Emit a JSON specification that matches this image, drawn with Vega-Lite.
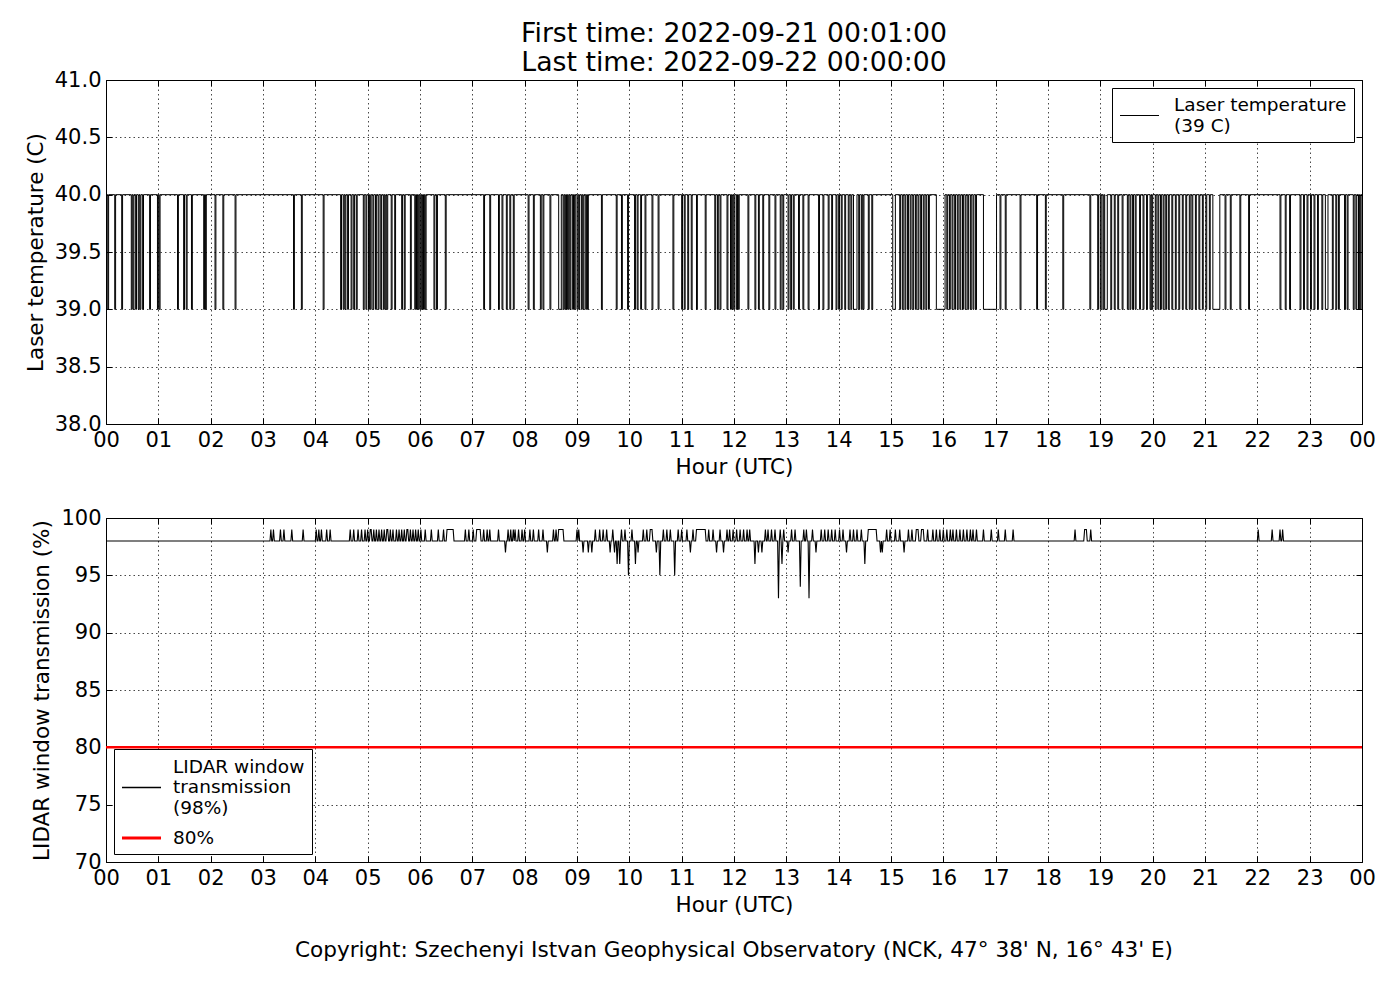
{
  "$schema": "https://vega.github.io/schema/vega-lite/v6.json",
  "padding": {"left": 24, "top": 20, "right": 24, "bottom": 10},
  "datasets": {
    "laser": [
      {"minute":1,"value":40},
      {"minute":2,"value":39},{"minute":3,"value":40},{"minute":10,"value":39},{"minute":11,"value":40},
      {"minute":18,"value":39},{"minute":19,"value":40},{"minute":29,"value":39},{"minute":30,"value":40},
      {"minute":31,"value":39},{"minute":32,"value":40},{"minute":34,"value":39},{"minute":35,"value":40},
      {"minute":37,"value":39},{"minute":38,"value":40},{"minute":39,"value":39},{"minute":40,"value":40},
      {"minute":42,"value":39},{"minute":43,"value":40},{"minute":50,"value":39},{"minute":51,"value":40},
      {"minute":59,"value":39},{"minute":60,"value":40},{"minute":61,"value":39},{"minute":62,"value":40},
      {"minute":82,"value":39},{"minute":83,"value":40},{"minute":89,"value":39},{"minute":90,"value":40},
      {"minute":92,"value":39},{"minute":93,"value":40},{"minute":98,"value":39},{"minute":99,"value":40},
      {"minute":112,"value":39},{"minute":113,"value":40},{"minute":114,"value":39},{"minute":115,"value":40},
      {"minute":125,"value":39},{"minute":126,"value":40},{"minute":134,"value":39},{"minute":135,"value":40},
      {"minute":148,"value":39},{"minute":149,"value":40},{"minute":215,"value":39},{"minute":216,"value":40},
      {"minute":224,"value":39},{"minute":225,"value":40},{"minute":249,"value":39},{"minute":250,"value":40},
      {"minute":269,"value":39},{"minute":270,"value":40},{"minute":272,"value":39},{"minute":273,"value":40},
      {"minute":274,"value":39},{"minute":275,"value":40},{"minute":277,"value":39},{"minute":278,"value":40},
      {"minute":281,"value":39},{"minute":282,"value":40},{"minute":284,"value":39},{"minute":285,"value":40},
      {"minute":287,"value":39},{"minute":288,"value":40},{"minute":295,"value":39},{"minute":296,"value":40},
      {"minute":298,"value":39},{"minute":299,"value":40},{"minute":301,"value":39},{"minute":302,"value":40},
      {"minute":303,"value":39},{"minute":304,"value":40},{"minute":306,"value":39},{"minute":307,"value":40},
      {"minute":309,"value":39},{"minute":310,"value":40},{"minute":312,"value":39},{"minute":313,"value":40},
      {"minute":315,"value":39},{"minute":316,"value":40},{"minute":318,"value":39},{"minute":319,"value":40},
      {"minute":320,"value":39},{"minute":321,"value":40},{"minute":322,"value":39},{"minute":323,"value":40},
      {"minute":327,"value":39},{"minute":328,"value":40},{"minute":331,"value":39},{"minute":332,"value":40},
      {"minute":339,"value":39},{"minute":340,"value":40},{"minute":342,"value":39},{"minute":343,"value":40},
      {"minute":349,"value":39},{"minute":350,"value":40},{"minute":354,"value":39},{"minute":355,"value":40},
      {"minute":356,"value":39},{"minute":357,"value":40},{"minute":358,"value":39},{"minute":359,"value":40},
      {"minute":360,"value":39},{"minute":361,"value":40},{"minute":362,"value":39},{"minute":363,"value":40},
      {"minute":364,"value":39},{"minute":365,"value":40},{"minute":366,"value":39},{"minute":367,"value":40},
      {"minute":376,"value":39},{"minute":377,"value":40},{"minute":379,"value":39},{"minute":380,"value":40},
      {"minute":389,"value":39},{"minute":390,"value":40},{"minute":433,"value":39},{"minute":434,"value":40},
      {"minute":440,"value":39},{"minute":441,"value":40},{"minute":450,"value":39},{"minute":451,"value":40},
      {"minute":454,"value":39},{"minute":455,"value":40},{"minute":459,"value":39},{"minute":460,"value":40},
      {"minute":463,"value":39},{"minute":464,"value":40},{"minute":467,"value":39},{"minute":468,"value":40},
      {"minute":484,"value":39},{"minute":485,"value":40},{"minute":490,"value":39},{"minute":491,"value":40},
      {"minute":498,"value":39},{"minute":499,"value":40},{"minute":501,"value":39},{"minute":502,"value":40},
      {"minute":509,"value":39},{"minute":510,"value":40},{"minute":519,"value":39},{"minute":522,"value":40},
      {"minute":524,"value":39},{"minute":525,"value":40},{"minute":526,"value":39},{"minute":527,"value":40},
      {"minute":528,"value":39},{"minute":529,"value":40},{"minute":530,"value":39},{"minute":531,"value":40},
      {"minute":532,"value":39},{"minute":533,"value":40},{"minute":535,"value":39},{"minute":536,"value":40},
      {"minute":537,"value":39},{"minute":538,"value":40},{"minute":540,"value":39},{"minute":541,"value":40},
      {"minute":542,"value":39},{"minute":543,"value":40},{"minute":545,"value":39},{"minute":546,"value":40},
      {"minute":547,"value":39},{"minute":548,"value":40},{"minute":550,"value":39},{"minute":551,"value":40},
      {"minute":552,"value":39},{"minute":553,"value":40},{"minute":568,"value":39},{"minute":569,"value":40},
      {"minute":585,"value":39},{"minute":586,"value":40},{"minute":591,"value":39},{"minute":592,"value":40},
      {"minute":598,"value":39},{"minute":599,"value":40},{"minute":606,"value":39},{"minute":607,"value":40},
      {"minute":609,"value":39},{"minute":610,"value":40},{"minute":613,"value":39},{"minute":614,"value":40},
      {"minute":618,"value":39},{"minute":619,"value":40},{"minute":626,"value":39},{"minute":627,"value":40},
      {"minute":633,"value":39},{"minute":634,"value":40},{"minute":650,"value":39},{"minute":651,"value":40},
      {"minute":660,"value":39},{"minute":661,"value":40},{"minute":663,"value":39},{"minute":664,"value":40},
      {"minute":667,"value":39},{"minute":668,"value":40},{"minute":671,"value":39},{"minute":672,"value":40},
      {"minute":677,"value":39},{"minute":678,"value":40},{"minute":687,"value":39},{"minute":688,"value":40},
      {"minute":698,"value":39},{"minute":699,"value":40},{"minute":701,"value":39},{"minute":702,"value":40},
      {"minute":704,"value":39},{"minute":705,"value":40},{"minute":712,"value":39},{"minute":713,"value":40},
      {"minute":716,"value":39},{"minute":717,"value":40},{"minute":718,"value":39},{"minute":719,"value":40},
      {"minute":720,"value":39},{"minute":721,"value":40},{"minute":723,"value":39},{"minute":724,"value":40},
      {"minute":725,"value":39},{"minute":726,"value":40},{"minute":736,"value":39},{"minute":737,"value":40},
      {"minute":744,"value":39},{"minute":745,"value":40},{"minute":748,"value":39},{"minute":749,"value":40},
      {"minute":753,"value":39},{"minute":754,"value":40},{"minute":760,"value":39},{"minute":761,"value":40},
      {"minute":767,"value":39},{"minute":768,"value":40},{"minute":773,"value":39},{"minute":774,"value":40},
      {"minute":776,"value":39},{"minute":777,"value":40},{"minute":782,"value":39},{"minute":783,"value":40},
      {"minute":785,"value":39},{"minute":786,"value":40},{"minute":788,"value":39},{"minute":789,"value":40},
      {"minute":794,"value":39},{"minute":795,"value":40},{"minute":799,"value":39},{"minute":800,"value":40},
      {"minute":805,"value":39},{"minute":806,"value":40},{"minute":817,"value":39},{"minute":818,"value":40},
      {"minute":822,"value":39},{"minute":823,"value":40},{"minute":828,"value":39},{"minute":829,"value":40},
      {"minute":832,"value":39},{"minute":833,"value":40},{"minute":837,"value":39},{"minute":838,"value":40},
      {"minute":840,"value":39},{"minute":841,"value":40},{"minute":843,"value":39},{"minute":844,"value":40},
      {"minute":847,"value":39},{"minute":848,"value":40},{"minute":851,"value":39},{"minute":852,"value":40},
      {"minute":854,"value":39},{"minute":855,"value":40},{"minute":857,"value":39},{"minute":861,"value":40},
      {"minute":863,"value":39},{"minute":864,"value":40},{"minute":866,"value":39},{"minute":867,"value":40},
      {"minute":868,"value":39},{"minute":869,"value":40},{"minute":874,"value":39},{"minute":875,"value":40},
      {"minute":878,"value":39},{"minute":879,"value":40},{"minute":902,"value":39},{"minute":905,"value":40},
      {"minute":910,"value":39},{"minute":911,"value":40},{"minute":913,"value":39},{"minute":914,"value":40},
      {"minute":916,"value":39},{"minute":917,"value":40},{"minute":919,"value":39},{"minute":920,"value":40},
      {"minute":922,"value":39},{"minute":923,"value":40},{"minute":925,"value":39},{"minute":926,"value":40},
      {"minute":928,"value":39},{"minute":929,"value":40},{"minute":931,"value":39},{"minute":932,"value":40},
      {"minute":934,"value":39},{"minute":935,"value":40},{"minute":937,"value":39},{"minute":938,"value":40},
      {"minute":940,"value":39},{"minute":941,"value":40},{"minute":943,"value":39},{"minute":944,"value":40},
      {"minute":952,"value":39},{"minute":962,"value":40},{"minute":964,"value":39},{"minute":965,"value":40},
      {"minute":967,"value":39},{"minute":968,"value":40},{"minute":970,"value":39},{"minute":971,"value":40},
      {"minute":973,"value":39},{"minute":974,"value":40},{"minute":976,"value":39},{"minute":977,"value":40},
      {"minute":979,"value":39},{"minute":980,"value":40},{"minute":982,"value":39},{"minute":983,"value":40},
      {"minute":985,"value":39},{"minute":986,"value":40},{"minute":988,"value":39},{"minute":989,"value":40},
      {"minute":991,"value":39},{"minute":992,"value":40},{"minute":994,"value":39},{"minute":995,"value":40},
      {"minute":997,"value":39},{"minute":998,"value":40},{"minute":1006,"value":39},{"minute":1021,"value":40},
      {"minute":1025,"value":39},{"minute":1026,"value":40},{"minute":1031,"value":39},{"minute":1032,"value":40},
      {"minute":1048,"value":39},{"minute":1049,"value":40},{"minute":1067,"value":39},{"minute":1068,"value":40},
      {"minute":1077,"value":39},{"minute":1078,"value":40},{"minute":1097,"value":39},{"minute":1098,"value":40},
      {"minute":1128,"value":39},{"minute":1129,"value":40},{"minute":1137,"value":39},{"minute":1138,"value":40},
      {"minute":1140,"value":39},{"minute":1141,"value":40},{"minute":1143,"value":39},{"minute":1144,"value":40},
      {"minute":1145,"value":39},{"minute":1148,"value":40},{"minute":1152,"value":39},{"minute":1153,"value":40},
      {"minute":1156,"value":39},{"minute":1157,"value":40},{"minute":1160,"value":39},{"minute":1161,"value":40},
      {"minute":1165,"value":39},{"minute":1166,"value":40},{"minute":1171,"value":39},{"minute":1172,"value":40},
      {"minute":1174,"value":39},{"minute":1175,"value":40},{"minute":1177,"value":39},{"minute":1178,"value":40},
      {"minute":1180,"value":39},{"minute":1181,"value":40},{"minute":1185,"value":39},{"minute":1186,"value":40},
      {"minute":1189,"value":39},{"minute":1190,"value":40},{"minute":1193,"value":39},{"minute":1194,"value":40},
      {"minute":1197,"value":39},{"minute":1198,"value":40},{"minute":1199,"value":39},{"minute":1200,"value":40},
      {"minute":1203,"value":39},{"minute":1204,"value":40},{"minute":1206,"value":39},{"minute":1207,"value":40},
      {"minute":1209,"value":39},{"minute":1210,"value":40},{"minute":1212,"value":39},{"minute":1213,"value":40},
      {"minute":1215,"value":39},{"minute":1216,"value":40},{"minute":1218,"value":39},{"minute":1219,"value":40},
      {"minute":1222,"value":39},{"minute":1223,"value":40},{"minute":1226,"value":39},{"minute":1227,"value":40},
      {"minute":1230,"value":39},{"minute":1231,"value":40},{"minute":1234,"value":39},{"minute":1235,"value":40},
      {"minute":1238,"value":39},{"minute":1239,"value":40},{"minute":1242,"value":39},{"minute":1243,"value":40},
      {"minute":1245,"value":39},{"minute":1246,"value":40},{"minute":1249,"value":39},{"minute":1250,"value":40},
      {"minute":1253,"value":39},{"minute":1254,"value":40},{"minute":1257,"value":39},{"minute":1258,"value":40},
      {"minute":1261,"value":39},{"minute":1262,"value":40},{"minute":1265,"value":39},{"minute":1266,"value":40},
      {"minute":1269,"value":39},{"minute":1277,"value":40},{"minute":1283,"value":39},{"minute":1284,"value":40},
      {"minute":1289,"value":39},{"minute":1290,"value":40},{"minute":1300,"value":39},{"minute":1301,"value":40},
      {"minute":1310,"value":39},{"minute":1311,"value":40},{"minute":1346,"value":39},{"minute":1347,"value":40},
      {"minute":1352,"value":39},{"minute":1353,"value":40},{"minute":1357,"value":39},{"minute":1358,"value":40},
      {"minute":1369,"value":39},{"minute":1370,"value":40},{"minute":1373,"value":39},{"minute":1374,"value":40},
      {"minute":1377,"value":39},{"minute":1378,"value":40},{"minute":1381,"value":39},{"minute":1382,"value":40},
      {"minute":1385,"value":39},{"minute":1386,"value":40},{"minute":1389,"value":39},{"minute":1390,"value":40},
      {"minute":1394,"value":39},{"minute":1395,"value":40},{"minute":1398,"value":39},{"minute":1401,"value":40},
      {"minute":1406,"value":39},{"minute":1407,"value":40},{"minute":1410,"value":39},{"minute":1411,"value":40},
      {"minute":1413,"value":39},{"minute":1414,"value":40},{"minute":1420,"value":39},{"minute":1421,"value":40},
      {"minute":1423,"value":39},{"minute":1424,"value":40},{"minute":1430,"value":39},{"minute":1431,"value":40},
      {"minute":1433,"value":39},{"minute":1434,"value":40},{"minute":1436,"value":39},{"minute":1437,"value":40},
      {"minute":1438,"value":39},{"minute":1439,"value":40},{"minute":1440,"value":40}
    ],
    "lidar": [
      {"minute":1,"value":98},
      {"minute":188,"value":98},{"minute":189,"value":99},{"minute":190,"value":98},
      {"minute":191,"value":98},{"minute":192,"value":99},{"minute":193,"value":98},
      {"minute":199,"value":98},{"minute":200,"value":99},{"minute":201,"value":98},
      {"minute":203,"value":98},{"minute":204,"value":99},{"minute":205,"value":98},
      {"minute":212,"value":98},{"minute":213,"value":99},{"minute":214,"value":98},
      {"minute":225,"value":98},{"minute":226,"value":99},{"minute":227,"value":98},
      {"minute":240,"value":98},{"minute":241,"value":99},{"minute":242,"value":98},
      {"minute":243,"value":98},{"minute":244,"value":99},{"minute":245,"value":98},
      {"minute":246,"value":98},{"minute":247,"value":99},{"minute":248,"value":98},
      {"minute":252,"value":98},{"minute":253,"value":99},{"minute":254,"value":98},
      {"minute":256,"value":98},{"minute":257,"value":99},{"minute":258,"value":98},
      {"minute":279,"value":98},{"minute":280,"value":99},{"minute":281,"value":98},
      {"minute":283,"value":98},{"minute":284,"value":99},{"minute":285,"value":98},
      {"minute":288,"value":98},{"minute":289,"value":99},{"minute":290,"value":98},
      {"minute":292,"value":98},{"minute":293,"value":99},{"minute":294,"value":98},
      {"minute":296,"value":98},{"minute":297,"value":99},{"minute":298,"value":98},
      {"minute":299,"value":98},{"minute":300,"value":99},{"minute":301,"value":98},
      {"minute":302,"value":98},{"minute":303,"value":99},{"minute":304,"value":99},{"minute":305,"value":98},
      {"minute":306,"value":98},{"minute":307,"value":99},{"minute":308,"value":98},
      {"minute":309,"value":98},{"minute":310,"value":99},{"minute":311,"value":98},
      {"minute":312,"value":98},{"minute":313,"value":99},{"minute":314,"value":98},
      {"minute":315,"value":98},{"minute":316,"value":99},{"minute":317,"value":98},
      {"minute":318,"value":98},{"minute":319,"value":99},{"minute":320,"value":98},
      {"minute":321,"value":98},{"minute":322,"value":99},{"minute":323,"value":99},{"minute":324,"value":98},
      {"minute":325,"value":98},{"minute":326,"value":99},{"minute":327,"value":98},
      {"minute":328,"value":98},{"minute":329,"value":99},{"minute":330,"value":98},
      {"minute":332,"value":98},{"minute":333,"value":99},{"minute":334,"value":98},
      {"minute":335,"value":98},{"minute":336,"value":99},{"minute":337,"value":98},
      {"minute":338,"value":98},{"minute":339,"value":99},{"minute":340,"value":98},
      {"minute":341,"value":98},{"minute":342,"value":99},{"minute":343,"value":98},
      {"minute":344,"value":98},{"minute":345,"value":99},{"minute":346,"value":99},{"minute":347,"value":98},
      {"minute":348,"value":98},{"minute":349,"value":99},{"minute":350,"value":98},
      {"minute":351,"value":98},{"minute":352,"value":99},{"minute":353,"value":98},
      {"minute":354,"value":98},{"minute":355,"value":99},{"minute":356,"value":98},
      {"minute":357,"value":98},{"minute":358,"value":99},{"minute":359,"value":98},
      {"minute":360,"value":98},{"minute":361,"value":99},{"minute":362,"value":98},
      {"minute":365,"value":98},{"minute":366,"value":99},{"minute":367,"value":98},
      {"minute":372,"value":98},{"minute":373,"value":99},{"minute":374,"value":98},
      {"minute":380,"value":98},{"minute":381,"value":99},{"minute":382,"value":98},
      {"minute":386,"value":98},{"minute":387,"value":99},{"minute":388,"value":98},
      {"minute":390,"value":98},{"minute":391,"value":99},{"minute":398,"value":99},{"minute":399,"value":98},
      {"minute":411,"value":98},{"minute":412,"value":99},{"minute":413,"value":98},
      {"minute":415,"value":98},{"minute":416,"value":99},{"minute":417,"value":98},
      {"minute":420,"value":98},{"minute":421,"value":99},{"minute":422,"value":98},
      {"minute":424,"value":98},{"minute":425,"value":99},{"minute":429,"value":99},{"minute":430,"value":98},
      {"minute":432,"value":98},{"minute":433,"value":99},{"minute":434,"value":98},
      {"minute":436,"value":98},{"minute":437,"value":99},{"minute":438,"value":98},
      {"minute":439,"value":98},{"minute":440,"value":99},{"minute":441,"value":98},
      {"minute":449,"value":98},{"minute":450,"value":99},{"minute":451,"value":98},
      {"minute":457,"value":98},{"minute":458,"value":97},{"minute":459,"value":98},
      {"minute":460,"value":98},{"minute":461,"value":99},{"minute":462,"value":98},
      {"minute":463,"value":98},{"minute":464,"value":99},{"minute":465,"value":98},
      {"minute":466,"value":98},{"minute":467,"value":99},{"minute":468,"value":98},
      {"minute":469,"value":99},{"minute":470,"value":98},
      {"minute":472,"value":98},{"minute":473,"value":99},{"minute":474,"value":98},
      {"minute":476,"value":98},{"minute":477,"value":99},{"minute":478,"value":98},
      {"minute":479,"value":98},{"minute":480,"value":99},{"minute":481,"value":98},
      {"minute":485,"value":98},{"minute":486,"value":99},{"minute":487,"value":98},
      {"minute":489,"value":98},{"minute":490,"value":99},{"minute":491,"value":98},
      {"minute":495,"value":98},{"minute":496,"value":99},{"minute":497,"value":98},
      {"minute":500,"value":98},{"minute":501,"value":99},{"minute":502,"value":98},
      {"minute":505,"value":98},{"minute":506,"value":97},{"minute":507,"value":98},
      {"minute":512,"value":98},{"minute":513,"value":99},{"minute":514,"value":98},
      {"minute":515,"value":98},{"minute":516,"value":99},{"minute":517,"value":98},
      {"minute":518,"value":98},{"minute":519,"value":99},{"minute":524,"value":99},{"minute":525,"value":98},
      {"minute":539,"value":98},{"minute":540,"value":99},{"minute":541,"value":98},
      {"minute":542,"value":99},{"minute":543,"value":98},
      {"minute":546,"value":98},{"minute":547,"value":97},{"minute":548,"value":98},
      {"minute":552,"value":98},{"minute":553,"value":97},{"minute":554,"value":98},
      {"minute":556,"value":98},{"minute":557,"value":97},{"minute":558,"value":98},
      {"minute":560,"value":98},{"minute":561,"value":99},{"minute":562,"value":98},
      {"minute":565,"value":98},{"minute":566,"value":99},{"minute":567,"value":98},
      {"minute":569,"value":98},{"minute":570,"value":99},{"minute":571,"value":98},
      {"minute":573,"value":98},{"minute":574,"value":99},{"minute":575,"value":98},
      {"minute":577,"value":98},{"minute":578,"value":97},{"minute":579,"value":98},
      {"minute":580,"value":98},{"minute":581,"value":99},{"minute":582,"value":98},
      {"minute":583,"value":97},{"minute":584,"value":98},
      {"minute":585,"value":98},{"minute":586,"value":96},{"minute":587,"value":98},
      {"minute":588,"value":98},{"minute":589,"value":96},{"minute":590,"value":98},
      {"minute":591,"value":99},{"minute":592,"value":98},
      {"minute":594,"value":98},{"minute":595,"value":99},{"minute":596,"value":98},
      {"minute":598,"value":98},{"minute":599,"value":95},{"minute":600,"value":98},
      {"minute":602,"value":98},{"minute":603,"value":99},{"minute":604,"value":98},
      {"minute":606,"value":98},{"minute":607,"value":96},{"minute":608,"value":98},
      {"minute":609,"value":98},{"minute":610,"value":97},{"minute":611,"value":98},
      {"minute":615,"value":98},{"minute":616,"value":99},{"minute":617,"value":98},
      {"minute":619,"value":98},{"minute":620,"value":99},{"minute":621,"value":98},
      {"minute":623,"value":98},{"minute":624,"value":99},{"minute":626,"value":99},{"minute":627,"value":98},
      {"minute":630,"value":98},{"minute":631,"value":97},{"minute":632,"value":98},
      {"minute":634,"value":98},{"minute":635,"value":95},{"minute":636,"value":98},
      {"minute":638,"value":98},{"minute":639,"value":99},{"minute":640,"value":98},
      {"minute":642,"value":98},{"minute":643,"value":99},{"minute":644,"value":98},
      {"minute":646,"value":98},{"minute":647,"value":99},{"minute":648,"value":98},
      {"minute":651,"value":98},{"minute":652,"value":95},{"minute":653,"value":98},
      {"minute":655,"value":98},{"minute":656,"value":99},{"minute":657,"value":98},
      {"minute":659,"value":98},{"minute":660,"value":99},{"minute":661,"value":98},
      {"minute":665,"value":98},{"minute":666,"value":99},{"minute":667,"value":98},
      {"minute":669,"value":98},{"minute":670,"value":97},{"minute":671,"value":98},
      {"minute":672,"value":98},{"minute":673,"value":99},{"minute":674,"value":98},
      {"minute":676,"value":98},{"minute":677,"value":99},{"minute":687,"value":99},{"minute":688,"value":98},
      {"minute":690,"value":98},{"minute":691,"value":99},{"minute":692,"value":98},
      {"minute":695,"value":98},{"minute":696,"value":99},{"minute":697,"value":98},
      {"minute":699,"value":98},{"minute":700,"value":97},{"minute":701,"value":98},
      {"minute":703,"value":98},{"minute":704,"value":99},{"minute":705,"value":98},
      {"minute":707,"value":98},{"minute":708,"value":97},{"minute":709,"value":98},
      {"minute":711,"value":98},{"minute":712,"value":99},{"minute":713,"value":98},
      {"minute":714,"value":98},{"minute":715,"value":99},{"minute":716,"value":98},
      {"minute":718,"value":98},{"minute":719,"value":99},{"minute":720,"value":98},
      {"minute":722,"value":98},{"minute":723,"value":99},{"minute":724,"value":98},
      {"minute":726,"value":98},{"minute":727,"value":99},{"minute":728,"value":98},
      {"minute":730,"value":98},{"minute":731,"value":99},{"minute":732,"value":98},
      {"minute":734,"value":98},{"minute":735,"value":99},{"minute":736,"value":98},
      {"minute":737,"value":98},{"minute":738,"value":99},{"minute":739,"value":98},
      {"minute":743,"value":98},{"minute":744,"value":96},{"minute":745,"value":98},
      {"minute":747,"value":98},{"minute":748,"value":97},{"minute":749,"value":98},
      {"minute":751,"value":98},{"minute":752,"value":97},{"minute":753,"value":98},
      {"minute":755,"value":98},{"minute":756,"value":99},{"minute":757,"value":98},
      {"minute":758,"value":98},{"minute":759,"value":99},{"minute":760,"value":98},
      {"minute":762,"value":98},{"minute":763,"value":99},{"minute":764,"value":98},
      {"minute":766,"value":98},{"minute":767,"value":99},{"minute":768,"value":98},
      {"minute":770,"value":98},{"minute":771,"value":93},{"minute":772,"value":98},
      {"minute":773,"value":99},{"minute":774,"value":98},
      {"minute":775,"value":96},{"minute":776,"value":98},
      {"minute":777,"value":99},{"minute":778,"value":98},
      {"minute":781,"value":98},{"minute":782,"value":97},{"minute":783,"value":98},
      {"minute":785,"value":98},{"minute":786,"value":99},{"minute":787,"value":98},
      {"minute":789,"value":98},{"minute":790,"value":99},{"minute":791,"value":98},
      {"minute":795,"value":98},{"minute":796,"value":94},{"minute":797,"value":98},
      {"minute":799,"value":98},{"minute":800,"value":99},{"minute":801,"value":98},
      {"minute":802,"value":98},{"minute":803,"value":99},{"minute":804,"value":98},
      {"minute":805,"value":98},{"minute":806,"value":93},{"minute":807,"value":98},
      {"minute":809,"value":98},{"minute":810,"value":99},{"minute":811,"value":98},
      {"minute":813,"value":98},{"minute":814,"value":97},{"minute":815,"value":98},
      {"minute":819,"value":98},{"minute":820,"value":99},{"minute":821,"value":98},
      {"minute":823,"value":98},{"minute":824,"value":99},{"minute":825,"value":98},
      {"minute":827,"value":98},{"minute":828,"value":99},{"minute":829,"value":98},
      {"minute":831,"value":98},{"minute":832,"value":99},{"minute":833,"value":98},
      {"minute":835,"value":98},{"minute":836,"value":99},{"minute":837,"value":98},
      {"minute":840,"value":98},{"minute":841,"value":99},{"minute":842,"value":98},
      {"minute":844,"value":98},{"minute":845,"value":99},{"minute":846,"value":98},
      {"minute":848,"value":98},{"minute":849,"value":97},{"minute":850,"value":98},
      {"minute":852,"value":98},{"minute":853,"value":99},{"minute":854,"value":98},
      {"minute":856,"value":98},{"minute":857,"value":99},{"minute":858,"value":98},
      {"minute":860,"value":98},{"minute":861,"value":99},{"minute":862,"value":98},
      {"minute":865,"value":98},{"minute":866,"value":99},{"minute":867,"value":98},
      {"minute":869,"value":98},{"minute":870,"value":96},{"minute":871,"value":98},
      {"minute":873,"value":98},{"minute":874,"value":99},{"minute":883,"value":99},{"minute":884,"value":98},
      {"minute":887,"value":98},{"minute":888,"value":97},{"minute":889,"value":98},
      {"minute":890,"value":97},{"minute":891,"value":98},
      {"minute":894,"value":98},{"minute":895,"value":99},{"minute":896,"value":98},
      {"minute":898,"value":98},{"minute":899,"value":99},{"minute":900,"value":98},
      {"minute":904,"value":98},{"minute":905,"value":99},{"minute":906,"value":98},
      {"minute":909,"value":98},{"minute":910,"value":99},{"minute":911,"value":98},
      {"minute":914,"value":98},{"minute":915,"value":97},{"minute":916,"value":98},
      {"minute":919,"value":98},{"minute":920,"value":99},{"minute":921,"value":98},
      {"minute":923,"value":98},{"minute":924,"value":99},{"minute":925,"value":98},
      {"minute":928,"value":98},{"minute":929,"value":99},{"minute":931,"value":99},{"minute":932,"value":98},
      {"minute":934,"value":98},{"minute":935,"value":99},{"minute":937,"value":99},{"minute":938,"value":98},
      {"minute":941,"value":98},{"minute":942,"value":99},{"minute":943,"value":98},
      {"minute":947,"value":98},{"minute":948,"value":99},{"minute":949,"value":98},
      {"minute":951,"value":98},{"minute":952,"value":99},{"minute":953,"value":98},
      {"minute":955,"value":98},{"minute":956,"value":99},{"minute":957,"value":98},
      {"minute":959,"value":98},{"minute":960,"value":99},{"minute":961,"value":98},
      {"minute":963,"value":98},{"minute":964,"value":99},{"minute":965,"value":98},
      {"minute":967,"value":98},{"minute":968,"value":99},{"minute":969,"value":98},
      {"minute":970,"value":98},{"minute":971,"value":99},{"minute":972,"value":98},
      {"minute":974,"value":98},{"minute":975,"value":99},{"minute":976,"value":98},
      {"minute":978,"value":98},{"minute":979,"value":99},{"minute":980,"value":98},
      {"minute":982,"value":98},{"minute":983,"value":99},{"minute":984,"value":98},
      {"minute":986,"value":98},{"minute":987,"value":99},{"minute":988,"value":98},
      {"minute":990,"value":98},{"minute":991,"value":99},{"minute":992,"value":98},
      {"minute":993,"value":98},{"minute":994,"value":99},{"minute":995,"value":98},
      {"minute":997,"value":98},{"minute":998,"value":99},{"minute":999,"value":98},
      {"minute":1005,"value":98},{"minute":1006,"value":99},{"minute":1007,"value":98},
      {"minute":1014,"value":98},{"minute":1015,"value":99},{"minute":1016,"value":98},
      {"minute":1022,"value":98},{"minute":1023,"value":99},{"minute":1024,"value":98},
      {"minute":1030,"value":98},{"minute":1031,"value":99},{"minute":1032,"value":98},
      {"minute":1039,"value":98},{"minute":1040,"value":99},{"minute":1041,"value":98},
      {"minute":1110,"value":98},{"minute":1111,"value":99},{"minute":1112,"value":98},
      {"minute":1121,"value":98},{"minute":1122,"value":99},{"minute":1124,"value":99},{"minute":1125,"value":98},
      {"minute":1128,"value":98},{"minute":1129,"value":99},{"minute":1130,"value":98},
      {"minute":1320,"value":98},{"minute":1321,"value":99},{"minute":1322,"value":98},
      {"minute":1336,"value":98},{"minute":1337,"value":99},{"minute":1338,"value":98},
      {"minute":1345,"value":98},{"minute":1346,"value":99},{"minute":1347,"value":98},
      {"minute":1348,"value":98},{"minute":1349,"value":99},{"minute":1350,"value":98},
      {"minute":1440,"value":98}
    ],
    "threshold": [
      {"value": 80, "label": "80%"}
    ]
  },
  "vconcat": [
    {
      "title": {
        "text": ["First time: 2022-09-21 00:01:00", "Last time: 2022-09-22 00:00:00"],
        "fontSize": 26.7,
        "lineHeight": 29,
        "fontWeight": "normal",
        "color": "black",
        "anchor": "middle",
        "frame": "group",
        "offset": -8
      },
      "width": 1256,
      "height": 344,
      "data": {"name": "laser"},
      "layer": [
        {
          "mark": {"type": "line", "interpolate": "step-after", "strokeWidth": 1, "clip": true},
          "encoding": {
            "x": {
              "field": "minute",
              "type": "quantitative",
              "scale": {"domain": [0, 1440], "nice": false},
              "axis": {
                "title": "Hour (UTC)",
                "values": [0,60,120,180,240,300,360,420,480,540,600,660,720,780,840,900,960,1020,1080,1140,1200,1260,1320,1380,1440],
                "labelExpr": "datum.value == 1440 ? '00' : (datum.value < 600 ? '0' : '') + (datum.value / 60)"
              }
            },
            "y": {
              "field": "value",
              "type": "quantitative",
              "scale": {"domain": [38, 41], "nice": false, "zero": false},
              "axis": {
                "title": "Laser temperature (C)",
                "values": [38, 38.5, 39, 39.5, 40, 40.5, 41],
                "format": ".1f"
              }
            },
            "color": {
              "datum": "Laser temperature (39 C)",
              "type": "nominal",
              "scale": {"domain": ["Laser temperature (39 C)"], "range": ["black"]},
              "legend": {
                "orient": "top-right",
                "symbolSize": 1521,
                "labelExpr": "['Laser temperature', '(39 C)']",
                "encode": {
                  "labels": {"update": {"dy": {"value": -10.5}}}
                }
              }
            }
          }
        },
        {
          "mark": {"type": "line", "opacity": 0},
          "encoding": {
            "x": {
              "field": "minute",
              "type": "quantitative",
              "scale": {"domain": [0, 1440], "nice": false},
              "axis": {
                "orient": "top",
                "title": null,
                "labels": false,
                "grid": false,
                "values": [0,60,120,180,240,300,360,420,480,540,600,660,720,780,840,900,960,1020,1080,1140,1200,1260,1320,1380,1440]
              }
            },
            "y": {
              "field": "value",
              "type": "quantitative",
              "scale": {"domain": [38, 41], "nice": false, "zero": false},
              "axis": {
                "orient": "right",
                "title": null,
                "labels": false,
                "grid": false,
                "values": [38, 38.5, 39, 39.5, 40, 40.5, 41]
              }
            }
          }
        }
      ],
      "resolve": {"axis": {"x": "independent", "y": "independent"}}
    },
    {
      "title": {
        "text": "Copyright: Szechenyi Istvan Geophysical Observatory (NCK, 47° 38' N, 16° 43' E)",
        "orient": "bottom",
        "fontSize": 21.6,
        "fontWeight": "normal",
        "color": "black",
        "anchor": "middle",
        "frame": "group",
        "offset": 24
      },
      "width": 1256,
      "height": 344,
      "layer": [
        {
          "data": {"name": "lidar"},
          "mark": {"type": "line", "strokeWidth": 1.1, "clip": true},
          "encoding": {
            "x": {
              "field": "minute",
              "type": "quantitative",
              "scale": {"domain": [0, 1440], "nice": false},
              "axis": {
                "title": "Hour (UTC)",
                "values": [0,60,120,180,240,300,360,420,480,540,600,660,720,780,840,900,960,1020,1080,1140,1200,1260,1320,1380,1440],
                "labelExpr": "datum.value == 1440 ? '00' : (datum.value < 600 ? '0' : '') + (datum.value / 60)"
              }
            },
            "y": {
              "field": "value",
              "type": "quantitative",
              "scale": {"domain": [70, 100], "nice": false, "zero": false},
              "axis": {
                "title": "LIDAR window transmission (%)",
                "values": [70, 75, 80, 85, 90, 95, 100]
              }
            },
            "color": {
              "datum": "LIDAR window transmission (98%)",
              "type": "nominal",
              "scale": {"domain": ["LIDAR window transmission (98%)", "80%"], "range": ["black", "#ff0000"]},
              "legend": {
                "orient": "bottom-left",
                "symbolSize": 1521,
                "labelOffset": 11,
                "rowPadding": 0,
                "labelExpr": "datum.value == '80%' ? '80%' : ['LIDAR window', 'transmission', '(98%)']",
                "encode": {
                  "symbols": {
                    "update": {
                      "strokeWidth": {"signal": "(datum.value == '80%' ? 3 : 1.3)"},
                      "y": {"signal": "(datum.value == '80%' ? 21 : 31.5)"}
                    }
                  },
                  "labels": {
                    "update": {"dy": {"signal": "(datum.value == '80%' ? 0 : -10)"}}
                  }
                }
              }
            }
          }
        },
        {
          "data": {"name": "threshold"},
          "mark": {"type": "rule", "strokeWidth": 2.5},
          "encoding": {
            "y": {"field": "value", "type": "quantitative", "axis": null},
            "color": {"field": "label", "type": "nominal"}
          }
        },
        {
          "data": {"name": "lidar"},
          "mark": {"type": "line", "opacity": 0},
          "encoding": {
            "x": {
              "field": "minute",
              "type": "quantitative",
              "scale": {"domain": [0, 1440], "nice": false},
              "axis": {
                "orient": "top",
                "title": null,
                "labels": false,
                "grid": false,
                "values": [0,60,120,180,240,300,360,420,480,540,600,660,720,780,840,900,960,1020,1080,1140,1200,1260,1320,1380,1440]
              }
            },
            "y": {
              "field": "value",
              "type": "quantitative",
              "scale": {"domain": [70, 100], "nice": false, "zero": false},
              "axis": {
                "orient": "right",
                "title": null,
                "labels": false,
                "grid": false,
                "values": [70, 75, 80, 85, 90, 95, 100]
              }
            }
          }
        }
      ],
      "resolve": {"axis": {"x": "independent", "y": "independent"}}
    }
  ],
  "spacing": 28,
  "resolve": {"scale": {"color": "independent"}, "legend": {"color": "independent"}},
  "config": {
    "font": "DejaVu Sans",
    "background": "white",
    "view": {"stroke": "black", "strokeWidth": 1},
    "line": {"color": "black"},
    "axis": {
      "domain": false,
      "grid": true,
      "gridColor": "black",
      "gridDash": [1.5, 3],
      "gridWidth": 0.8,
      "gridOpacity": 0.9,
      "ticks": true,
      "tickColor": "black",
      "tickSize": -6,
      "tickWidth": 1,
      "labelPadding": 11,
      "labelFontSize": 21,
      "labelColor": "black",
      "labelFlush": false,
      "labelOverlap": false,
      "titleFontSize": 21.5,
      "titleFontWeight": "normal",
      "titleColor": "black"
    },
    "axisX": {"titlePadding": 6},
    "axisY": {"titlePadding": 7},
    "legend": {
      "title": null,
      "offset": 8,
      "padding": 7,
      "fillColor": "white",
      "strokeColor": "black",
      "cornerRadius": 0,
      "symbolType": "stroke",
      "symbolSize": 1521,
      "symbolStrokeWidth": 1.2,
      "labelFontSize": 18.5,
      "labelColor": "black",
      "labelLimit": 400,
      "labelOffset": 14,
      "labelLineHeight": 21,
      "rowPadding": 6
    }
  }
}
